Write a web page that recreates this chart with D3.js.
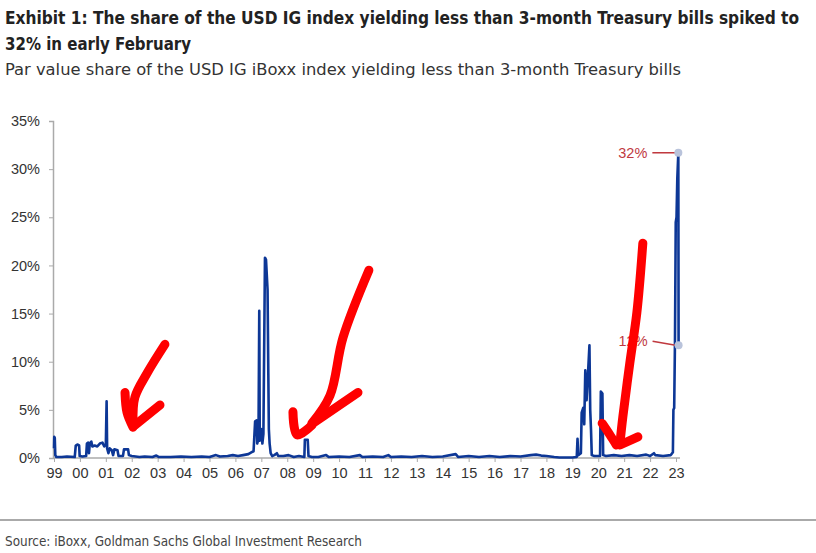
<!DOCTYPE html>
<html>
<head>
<meta charset="utf-8">
<script src="https://cdn.jsdelivr.net/npm/d3@7"></script>
<style>
  body { margin: 0; background: #fff; }
  text { font-family: "Liberation Sans", Arial, sans-serif; }
  .narrow { font-family: "Liberation Sans Narrow", "DejaVu Sans Condensed", "Liberation Sans", sans-serif; }
</style>
</head>
<body>
<div id="chart"></div>
<script>
// decimal year / share of index (%)
const years = [
  1999.00, 1999.01, 1999.03, 1999.05, 1999.09, 1999.3, 1999.5, 1999.8, 1999.84, 1999.9, 1999.97, 1999.99,
  2000.1, 2000.24, 2000.27, 2000.32, 2000.35, 2000.38, 2000.44, 2000.48, 2000.57, 2000.67, 2000.77, 2000.87, 2000.94, 2001.0,
  2001.03, 2001.05, 2001.1, 2001.15, 2001.23, 2001.28, 2001.33, 2001.45, 2001.49, 2001.66, 2001.7, 2001.86, 2001.89,
  2002.0, 2002.3, 2002.5, 2002.8, 2002.95, 2003.05, 2003.5, 2003.9, 2004.3, 2004.7, 2005.0, 2005.25, 2005.4, 2005.7, 2005.9,
  2006.1, 2006.3, 2006.5, 2006.63, 2006.7, 2006.76, 2006.82, 2006.84, 2006.89, 2006.92, 2006.94, 2006.99, 2007.04, 2007.08,
  2007.14, 2007.18, 2007.24, 2007.27, 2007.29, 2007.32, 2007.36, 2007.42, 2007.5, 2007.6, 2007.65, 2007.85, 2008.05, 2008.25,
  2008.45, 2008.66, 2008.68, 2008.79, 2008.82, 2008.95, 2009.2, 2009.5, 2009.6, 2010.0, 2010.4, 2010.8, 2010.9, 2011.3, 2011.7,
  2011.9, 2012.0, 2012.4, 2012.8, 2013.2, 2013.6, 2014.0, 2014.5, 2014.6, 2015.0, 2015.4, 2015.8, 2016.2, 2016.6, 2017.0,
  2017.4, 2017.6, 2017.8, 2018.0, 2018.3, 2018.5, 2019.0, 2019.17, 2019.2, 2019.23, 2019.33, 2019.36, 2019.42, 2019.46,
  2019.5, 2019.55, 2019.6, 2019.66, 2019.69, 2019.72, 2019.75, 2019.85, 2020.07, 2020.1, 2020.16, 2020.19, 2020.3, 2020.6,
  2020.9, 2021.2, 2021.5, 2021.85, 2022.0, 2022.15, 2022.2, 2022.5, 2022.8, 2022.88, 2022.9, 2022.93, 2022.96, 2022.99,
  2023.02, 2023.05, 2023.09, 2023.1
];
const shares = [
  1.0, 2.2, 2.1, 0.3, 0.1, 0.1, 0.15, 0.1, 1.3, 1.4, 1.3, 0.2,
  0.15, 0.2, 1.5, 1.6, 0.5, 1.5, 1.7, 1.2, 1.3, 1.2, 1.5, 1.6, 1.2, 1.4,
  5.9, 1.0, 0.5, 1.0, 0.8, 0.3, 0.9, 0.8, 0.2, 0.2, 0.9, 0.9, 0.3,
  0.2, 0.1, 0.15, 0.1, 0.25, 0.1, 0.1, 0.15, 0.1, 0.15, 0.1, 0.3, 0.15, 0.2, 0.3,
  0.2, 0.3, 0.4, 0.6, 0.7, 3.8, 3.9, 1.5, 2.0, 15.3, 1.8, 3.0, 1.5, 2.5,
  20.8, 20.6, 17.5, 8.7, 3.0, 1.5, 0.5, 0.2, 0.3, 0.5, 0.2, 0.2, 0.3, 0.1,
  0.2, 0.1, 1.9, 1.9, 0.2, 0.1, 0.1, 0.3, 0.1, 0.15, 0.1, 0.3, 0.1, 0.15, 0.1,
  0.3, 0.1, 0.15, 0.1, 0.2, 0.1, 0.15, 0.4, 0.1, 0.2, 0.1, 0.2, 0.1, 0.2, 0.15,
  0.3, 0.35, 0.25, 0.2, 0.1, 0.05, 0.05, 0.1, 2.0, 0.3, 0.5, 4.7, 5.2, 3.5,
  9.1, 6.0, 8.5, 11.7, 5.0, 3.0, 0.3, 0.2, 0.2, 6.9, 6.7, 0.3, 0.2, 0.3,
  0.2, 0.3, 0.2, 0.35, 0.2, 0.5, 0.3, 0.2, 0.3, 0.6, 5.0, 5.2, 12.0, 24.5,
  25.0, 29.0, 31.7, 11.7
];
const yTicks = [0, 5, 10, 15, 20, 25, 30, 35];
const xTicks = d3.range(1999, 2024);

// hand-drawn red arrows on the reference, in (year, %) units
const arrows = [
  [[[2003.28, 11.8], [2002.59, 8.8], [2002.12, 6.3], [2002.05, 3.6]],
   [[2001.74, 6.8], [2001.82, 4.7], [2002.05, 3.2]],
   [[2003.09, 5.5], [2002.12, 3.4]]],
  [[[2011.15, 19.5], [2010.15, 12.5], [2009.65, 6.5], [2008.95, 3.6]],
   [[2008.22, 4.8], [2008.38, 2.4], [2008.95, 3.4]],
   [[2010.73, 6.8], [2008.99, 3.6]]],
  [[[2021.72, 22.3], [2021.49, 15.1], [2021.22, 9.9], [2020.95, 4.3], [2020.84, 1.6]],
   [[2020.15, 3.6], [2020.45, 2.4], [2020.7, 1.35]],
   [[2021.53, 2.2], [2020.84, 1.35]]]
];

const data = years.map((y, i) => ({year: y, value: shares[i]}));

const W = 816, H = 553;
const svg = d3.select("#chart").append("svg")
    .attr("width", W)
    .attr("height", H);

svg.append("rect").attr("width", W).attr("height", H).attr("fill", "#fff");

// titles
svg.append("text").attr("class", "narrow")
    .attr("x", 5).attr("y", 24)
    .attr("font-size", 17).attr("font-weight", "bold").attr("fill", "#222")
    .attr("textLength", 794).attr("lengthAdjust", "spacingAndGlyphs")
    .text("Exhibit 1: The share of the USD IG index yielding less than 3-month Treasury bills spiked to");
svg.append("text").attr("class", "narrow")
    .attr("x", 5).attr("y", 50)
    .attr("font-size", 17).attr("font-weight", "bold").attr("fill", "#222")
    .attr("textLength", 186).attr("lengthAdjust", "spacingAndGlyphs")
    .text("32% in early February");
svg.append("text").attr("class", "narrow")
    .attr("x", 5).attr("y", 75)
    .attr("font-size", 16).attr("fill", "#333")
    .attr("textLength", 676).attr("lengthAdjust", "spacingAndGlyphs")
    .text("Par value share of the USD IG iBoxx index yielding less than 3-month Treasury bills");

const x = d3.scaleLinear().domain([1999, 2023]).range([54, 676]);
const y = d3.scaleLinear().domain([0, 35]).range([458, 121]);

// y axis
const yAxis = svg.append("g")
    .attr("transform", "translate(53,0)")
    .call(d3.axisLeft(y).tickValues(yTicks).tickSize(4).tickPadding(9).tickFormat(d => d + "%"));
yAxis.select(".domain").attr("stroke", "#aaa").attr("stroke-width", 1.5);
yAxis.selectAll(".tick line").attr("stroke", "#aaa");
yAxis.selectAll("text").attr("font-size", 14.5).attr("fill", "#333")
    .attr("font-family", "'Liberation Sans', Arial, sans-serif");

// x axis
const xAxis = svg.append("g")
    .attr("transform", "translate(0,458)")
    .call(d3.axisBottom(x).tickValues(xTicks).tickSize(4).tickPadding(6)
      .tickFormat(d => d3.format("02d")(d % 100)));
xAxis.select(".domain").attr("stroke", "#aaa").attr("stroke-width", 1.5)
    .attr("d", "M53,0H680");
xAxis.selectAll(".tick line").attr("stroke", "#aaa");
xAxis.selectAll("text").attr("font-size", 14.5).attr("fill", "#333")
    .attr("font-family", "'Liberation Sans', Arial, sans-serif");

// series
const line = d3.line().x(d => x(d.year)).y(d => y(d.value));
svg.append("path")
    .datum(data)
    .attr("fill", "none")
    .attr("stroke", "#0d3796")
    .attr("stroke-width", 2.6)
    .attr("stroke-linejoin", "round")
    .attr("d", line);

// peak and latest annotations
const peak = data.reduce((a, b) => b.value > a.value ? b : a);
const last = data[data.length - 1];
const notes = [
  {d: peak, dy: 0},
  {d: last, dy: -4}
];
notes.forEach(n => {
  const px = x(n.d.year), py = y(n.d.value);
  svg.append("line")
      .attr("x1", px - 26).attr("y1", py + n.dy)
      .attr("x2", px - 3).attr("y2", py)
      .attr("stroke", "#c0393f").attr("stroke-width", 1.5);
  svg.append("circle")
      .attr("cx", px).attr("cy", py).attr("r", 4)
      .attr("fill", "#b9c3db");
  svg.append("text")
      .attr("x", px - 31).attr("y", py + n.dy + 5)
      .attr("text-anchor", "end")
      .attr("font-size", 14.5).attr("fill", "#c0393f")
      .text(Math.round(n.d.value) + "%");
});

// red hand-drawn arrows
const pen = d3.line().x(d => x(d[0])).y(d => y(d[1])).curve(d3.curveCatmullRom);
arrows.forEach(a => {
  a.forEach(stroke => {
    svg.append("path")
        .attr("d", pen(stroke))
        .attr("fill", "none")
        .attr("stroke", "#ff0000")
        .attr("stroke-width", 9)
        .attr("stroke-linecap", "round")
        .attr("stroke-linejoin", "round");
  });
});

// footer
svg.append("line")
    .attr("x1", 0).attr("x2", W).attr("y1", 520).attr("y2", 520)
    .attr("stroke", "#aaa").attr("stroke-width", 2);
svg.append("text").attr("class", "narrow")
    .attr("x", 5).attr("y", 546)
    .attr("font-size", 13.5).attr("fill", "#444")
    .attr("textLength", 357).attr("lengthAdjust", "spacingAndGlyphs")
    .text("Source: iBoxx, Goldman Sachs Global Investment Research");
</script>
</body>
</html>
